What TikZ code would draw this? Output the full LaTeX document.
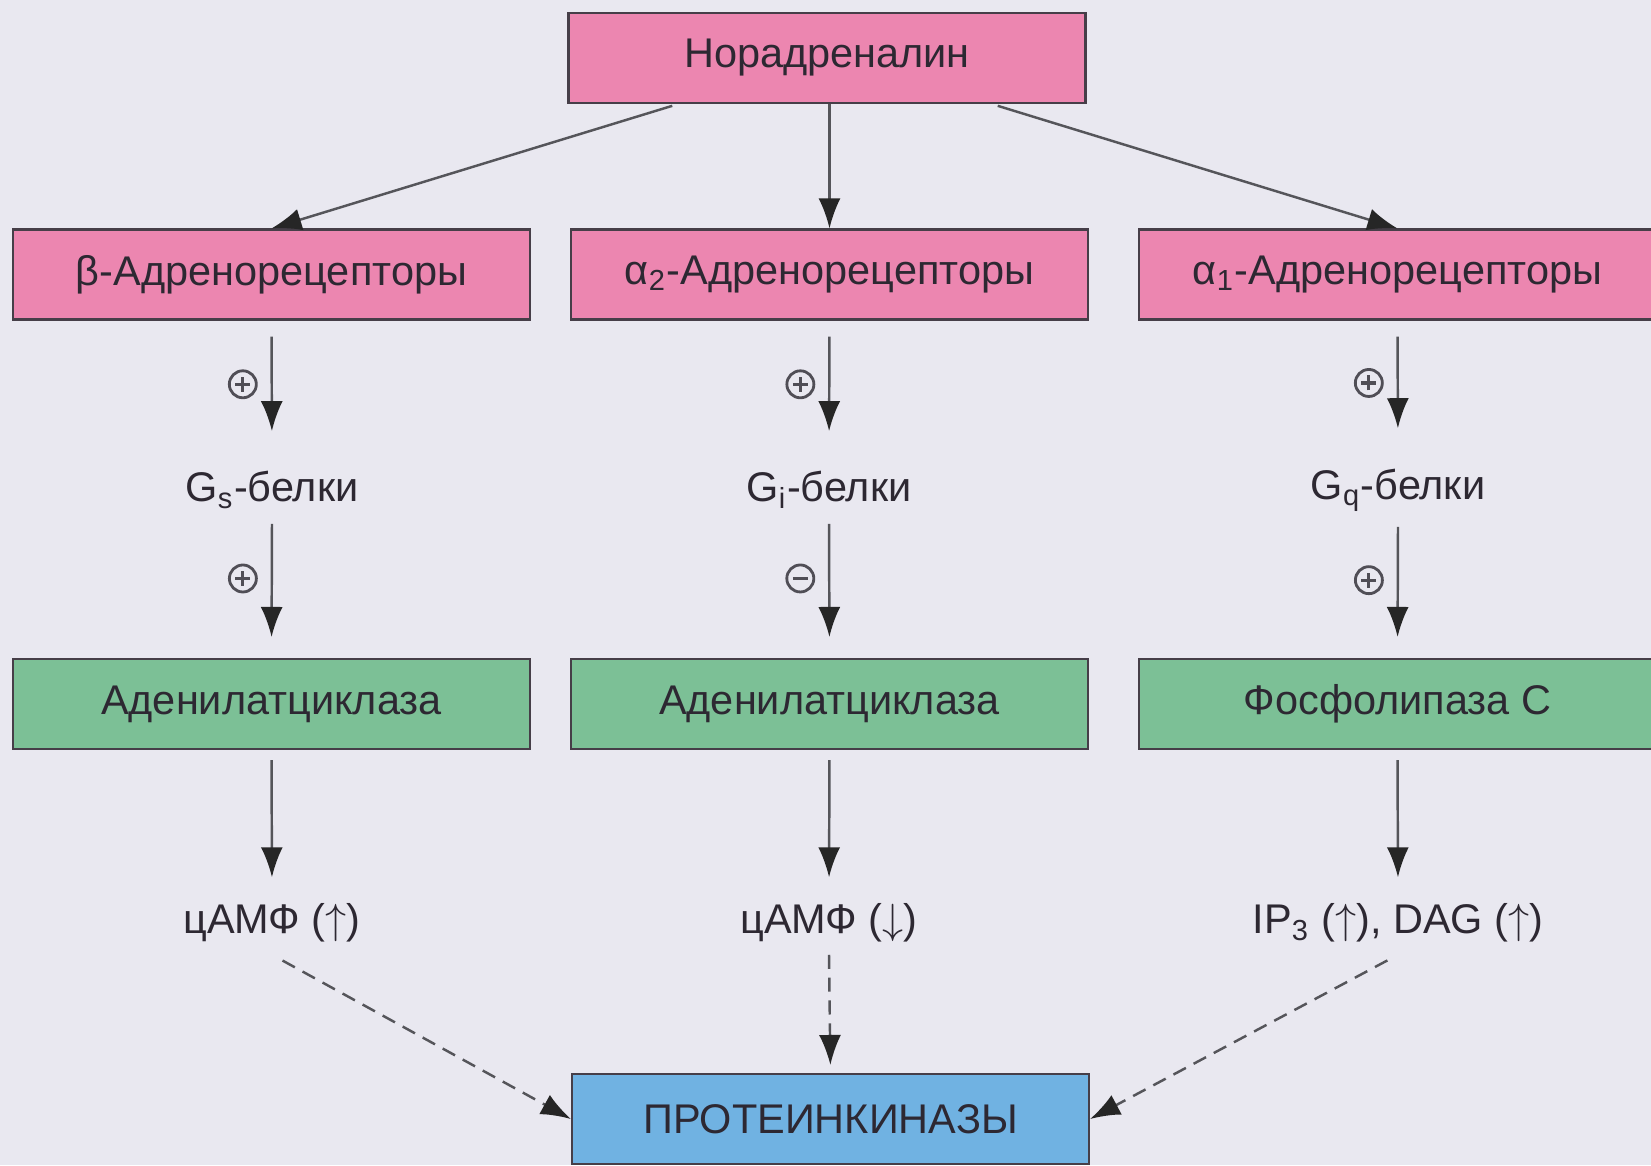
\documentclass[tikz,border=0pt]{standalone}
\usepackage{fontspec}
\setmainfont{Liberation Sans}
\usetikzlibrary{arrows.meta}
\definecolor{bgcol}{RGB}{233,232,240}
\definecolor{pinkbox}{RGB}{236,134,176}
\definecolor{greenbox}{RGB}{124,192,150}
\definecolor{bluebox}{RGB}{112,178,226}
\definecolor{boxline}{RGB}{70,62,72}
\definecolor{txt}{RGB}{45,40,50}
\definecolor{arrcol}{RGB}{85,85,90}
\definecolor{signcol}{RGB}{80,78,86}
\begin{document}
\begin{tikzpicture}[
		box/.style={draw=boxline, line width=0.6pt, minimum width=5.17cm, minimum height=0.9cm, text=txt, font=\fontsize{11.8}{14}\selectfont},
		rec/.style={box, fill=pinkbox},
		enz/.style={box, fill=greenbox},
		kin/.style={box, fill=bluebox},
		lbl/.style={text=txt, font=\fontsize{11.8}{14}\selectfont},
		sign/.style={circle, draw=signcol, line width=0.8pt, minimum size=0.27cm, inner sep=0pt},
		bar/.style={signcol, line width=0.9pt, -, shorten <=0pt, shorten >=0pt},
		plussign/.style={sign, path picture={
			\draw[bar] (path picture bounding box.center) ++(-0.075,0) -- ++(0.15,0)
				(path picture bounding box.center) ++(0,-0.075) -- ++(0,0.15);}},
		minussign/.style={sign, path picture={
			\draw[bar] (path picture bounding box.center) ++(-0.075,0) -- ++(0.15,0);}},
		arr/.style={draw=arrcol, line width=0.7pt, -{Latex[length=0.3cm, width=0.22cm, color=black!85]}},
		darr/.style={arr, dash pattern=on 4pt off 2.5pt}
	]
	\fill[bgcol] (0,0) rectangle (16.51,-11.65);
	\useasboundingbox (0,0) rectangle (16.51,-11.65);
	\node[rec] (nor) at (8.27,-0.58) {Норадреналин};
	\node[rec] (beta) at (2.715,-2.745) {β-Адренорецепторы};
	\node[rec] (alpha2) at (8.295,-2.745) {α\textsubscript{2}-Адренорецепторы};
	\node[rec] (alpha1) at (13.975,-2.745) {α\textsubscript{1}-Адренорецепторы};
	\node[lbl] (gs) at (2.72,-4.90) {G\textsubscript{s}-белки};
	\node[lbl] (gi) at (8.29,-4.90) {G\textsubscript{i}-белки};
	\node[lbl] (gq) at (13.98,-4.90) {G\textsubscript{q}-белки};
	\node[enz] (ac1) at (2.715,-7.04) {Аденилатциклаза};
	\node[enz] (ac2) at (8.295,-7.04) {Аденилатциклаза};
	\node[enz] (plc) at (13.975,-7.04) {Фосфолипаза С};
	\node[lbl] (camp1) at (2.72,-9.23) {цАМФ ($\uparrow$)};
	\node[lbl] (camp2) at (8.29,-9.23) {цАМФ ($\downarrow$)};
	\node[lbl] (ip3) at (13.98,-9.23) {IP\textsubscript{3} ($\uparrow$), DAG ($\uparrow$)};
	\node[kin] (pk) at (8.305,-11.19) {ПРОТЕИНКИНАЗЫ};
	\draw[arr, shorten <=0.06cm] ([xshift=-1.49cm]nor.south) -- (beta.north);
	\draw[arr] (nor.south -| alpha2.north) -- (alpha2.north);
	\draw[arr, shorten <=0.06cm] ([xshift=1.65cm]nor.south) -- (alpha1.north);
	\draw[arr, shorten <=0.16cm, shorten >=0.28cm] (beta.south) -- node[plussign, pos=0.46, left=0.14cm] (s1) {} (gs.north);
	\draw[arr, shorten <=0.16cm, shorten >=0.28cm] (alpha2.south) -- node[plussign, pos=0.46, left=0.14cm] (s2) {} (gi.north);
	\draw[arr, shorten <=0.16cm, shorten >=0.28cm] (alpha1.south) -- node[plussign, pos=0.46, left=0.14cm] (s3) {} (gq.north);
	\draw[arr, shorten <=0.03cm, shorten >=0.21cm] (gs.south) -- node[plussign, pos=0.42, left=0.14cm] (s4) {} (ac1.north);
	\draw[arr, shorten <=0.03cm, shorten >=0.21cm] (gi.south) -- node[minussign, pos=0.42, left=0.14cm] (s5) {} (ac2.north);
	\draw[arr, shorten <=0.03cm, shorten >=0.21cm] (gq.south) -- node[plussign, pos=0.42, left=0.14cm] (s6) {} (plc.north);
	\draw[arr, shorten <=0.1cm, shorten >=0.14cm] (ac1.south) -- (camp1.north);
	\draw[arr, shorten <=0.1cm, shorten >=0.14cm] (ac2.south) -- (camp2.north);
	\draw[arr, shorten <=0.1cm, shorten >=0.14cm] (plc.south) -- (ip3.north);
	\draw[darr, shorten <=0.12cm] (camp1.south) -- (pk.west);
	\draw[darr, shorten >=0.08cm] (camp2.south) -- (pk.north);
	\draw[darr, shorten <=0.12cm] (ip3.south) -- (pk.east);
\end{tikzpicture}
\end{document}
